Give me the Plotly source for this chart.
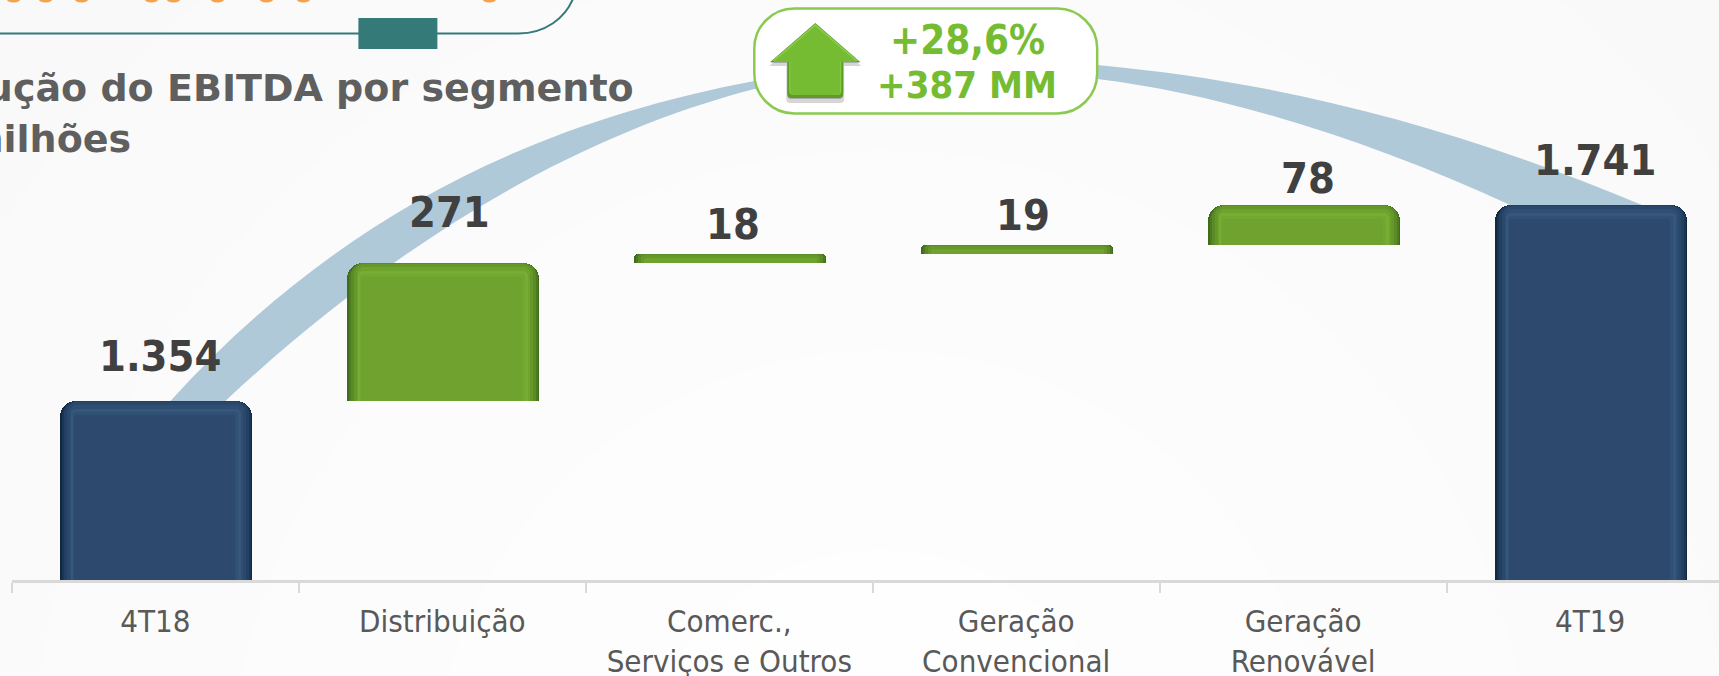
import plotly.graph_objects as go

W, H = 1719, 676
FIG_H = 730  # taller than the window so long tick labels never push the plot area; the page clips the rest
AXIS_Y = 580
PLOT_L = 11.5
CAT_PX = 287.0

categories = ["4T18", "Distribuição", "Comerc.,<br>Serviços e Outros", "Geração<br>Convencional", "Geração<br>Renovável", "4T19"]
values = [1354, 271, 18, 19, 78, 1741]
is_total = [True, False, False, False, False, True]
value_labels = ["1.354", "271", "18", "19", "78", "1.741"]
label_dx = [5, 7, 4, 7, 5, 5]
label_dy = [45, 51, 30, 30, 27, 45]
AXIS_MIN = 1000
AXIS_MAX = 2145
PX_PER_UNIT = AXIS_Y / (AXIS_MAX - AXIS_MIN)

# Waterfall bases
bases, run = [], 0
for v, t in zip(values, is_total):
    if t:
        bases.append(AXIS_MIN)
        run = v
    else:
        bases.append(run)
        run += v
heights = [v - AXIS_MIN if t else v for v, t in zip(values, is_total)]

# bevel layers: inset left, inset right, inset top (px), and colours for the two palettes
BEVEL = [(0, 0, 0), (2, 1, 0), (4, 3, 0), (7, 6, 1), (10, 9, 4), (11, 11, 8), (13, 14, 11), (14, 17, 14)]
BLUE = ["#12283e", "#1b3554", "#233f62", "#2a486c", "#2f4e73", "#375779", "#315076", "#2d4a6e"]
GREEN = ["#3f6b1b", "#4c7b21", "#5a8b26", "#659829", "#6ea42e", "#78ad35", "#72a831", "#6fa22f"]
BAR_PX = 192.0
BAR_LEFT = -95.0


def px(x):
    return (x - PLOT_L) / (W - PLOT_L)


def py(y):
    return 1 - y / AXIS_Y


def pt(x, y):
    return f"{px(x):.5f},{py(y):.5f}"


fig = go.Figure()
for layer, (il, ir, it) in enumerate(BEVEL):
    ys, bs, cols, widths, offs, sq = [], [], [], [], [], []
    radius = max(16 - min(il, ir), 3)
    for h, b, t in zip(heights, bases, is_total):
        h_px = h * PX_PER_UNIT
        keep = it <= 0.6 * h_px
        hh = h - it / PX_PER_UNIT if keep else 0
        ys.append(hh)
        bs.append(b)
        cols.append((BLUE if t else GREEN)[layer])
        widths.append((BAR_PX - il - ir) / CAT_PX)
        offs.append((BAR_LEFT + il) / CAT_PX)
        # square lower part: floating bars get rounded at both ends
        sq.append(max(hh - radius / PX_PER_UNIT, hh / 2))
    fig.add_trace(go.Bar(x=categories, y=ys, base=bs, width=widths, offset=offs,
                         marker=dict(color=cols, line=dict(width=0), cornerradius=radius),
                         hoverinfo="skip", showlegend=False))
    fig.add_trace(go.Bar(x=categories, y=sq, base=bs, width=widths, offset=offs,
                         marker=dict(color=cols, line=dict(width=0)),
                         hoverinfo="skip", showlegend=False))

# Background radial glow
shapes = []
glow = [(1250, "#f9f9f9"), (1050, "#fafafa"), (850, "#fbfbfb"), (650, "#fcfcfc"), (450, "#fdfdfd"), (250, "#fefefe")]
cx, cy = 880, 800
for r, c in glow:
    shapes.append(dict(type="circle", xref="paper", yref="paper", x0=px(cx - r), x1=px(cx + r), y0=py(cy + r), y1=py(cy - r), fillcolor=c, line=dict(width=0), layer="below"))

# Arc band
arc = (f"M {pt(170, 401)} C {pt(330, 225)} {pt(520, 125)} {pt(754, 81)} L {pt(1097, 65)} "
       f"C {pt(1280, 82)} {pt(1450, 125)} {pt(1642, 205)} L {pt(1510, 205)} "
       f"C {pt(1380, 145)} {pt(1230, 95)} {pt(1097, 79)} L {pt(754, 89)} "
       f"C {pt(554, 141)} {pt(375, 261)} {pt(225, 401)} Z")
shapes.append(dict(type="path", xref="paper", yref="paper", path=arc, fillcolor="#b0c9d9", line=dict(width=0), layer="below"))

# Header box fragment
box = f"M {pt(-5, 33.5)} L {pt(518, 33.5)} C {pt(545, 33.5)} {pt(565, 18)} {pt(573, -2)}"
shapes.append(dict(type="path", xref="paper", yref="paper", path=box, line=dict(color="#337a78", width=2), layer="above"))
shapes.append(dict(type="rect", xref="paper", yref="paper", x0=px(358), x1=px(437), y0=py(49), y1=py(18), fillcolor="#337a78", line=dict(width=0), layer="above"))
# clipped feet of the orange heading above the crop
for fx in [13, 45, 81, 151, 173, 217, 266, 303, 489]:
    shapes.append(dict(type="circle", xref="paper", yref="paper", x0=px(fx - 7), x1=px(fx + 7), y0=py(2.5), y1=py(-5), fillcolor="#f7a24a", line=dict(width=0), layer="above"))


def rrect(x0, y0, x1, y1, r):
    k = r * 0.45
    return (f"M {pt(x0 + r, y0)} L {pt(x1 - r, y0)} C {pt(x1 - k, y0)} {pt(x1, y0 + k)} {pt(x1, y0 + r)} "
            f"L {pt(x1, y1 - r)} C {pt(x1, y1 - k)} {pt(x1 - k, y1)} {pt(x1 - r, y1)} "
            f"L {pt(x0 + r, y1)} C {pt(x0 + k, y1)} {pt(x0, y1 - k)} {pt(x0, y1 - r)} "
            f"L {pt(x0, y0 + r)} C {pt(x0, y0 + k)} {pt(x0 + k, y0)} {pt(x0 + r, y0)} Z")


shapes.append(dict(type="path", xref="paper", yref="paper", path=rrect(754, 8.5, 1097, 113.5, 40), fillcolor="#ffffff", line=dict(color="#8bc94f", width=2.5), layer="above"))


def house(dx, dy, grow):
    tip = (815 + dx, 23 + dy - grow)
    lw = (770 + dx - grow, 62 + dy)
    rw = (860 + dx + grow, 62 + dy)
    bl = (787 + dx - grow, 62 + dy)
    br = (843 + dx + grow, 62 + dy)
    k = 8
    b = 98 + dy + grow
    return (f"M {pt(*tip)} L {pt(*rw)} L {pt(*br)} L {pt(br[0], b - k)} C {pt(br[0], b)} {pt(br[0], b)} {pt(br[0] - k, b)} "
            f"L {pt(bl[0] + k, b)} C {pt(bl[0], b)} {pt(bl[0], b)} {pt(bl[0], b - k)} L {pt(*bl)} L {pt(*lw)} Z")


shapes.append(dict(type="path", xref="paper", yref="paper", path=house(0, 4, 1), fillcolor="rgba(120,120,120,0.30)", line=dict(width=0), layer="above"))
shapes.append(dict(type="path", xref="paper", yref="paper", path=house(0, 1, 0), fillcolor="rgba(90,90,90,0.35)", line=dict(width=0), layer="above"))
shapes.append(dict(type="path", xref="paper", yref="paper", path=house(0, 0, 0), fillcolor="#5f9a2a", line=dict(width=0), layer="above"))
shapes.append(dict(type="path", xref="paper", yref="paper", path=house(0, -1, -2), fillcolor="#8ad04e", line=dict(width=0), layer="above"))
shapes.append(dict(type="path", xref="paper", yref="paper", path=house(0, 0, -3), fillcolor="#76bc33", line=dict(width=0), layer="above"))

FONT = "DejaVu Sans Condensed, DejaVu Sans, sans-serif"
TITLE_FONT = "DejaVu Sans, sans-serif"
annotations = []
for c, h, b, lab, dx, dy in zip(categories, heights, bases, value_labels, label_dx, label_dy):
    annotations.append(dict(x=c, y=b + h, xref="x", yref="y", text=lab, showarrow=False, xanchor="center", yanchor="middle", xshift=dx, yshift=dy, font=dict(family=FONT, size=43, color="#404040", weight="bold")))


def note(text, x, y, size, color, anchor="center", family=FONT):
    annotations.append(dict(x=px(x), y=py(y), xref="paper", yref="paper", text=text, showarrow=False, xanchor=anchor, yanchor="middle", font=dict(family=family, size=size, color=color, weight="bold")))


note("Evolução do EBITDA por segmento", 636, 88, 38, "#5f5f5f", "right", TITLE_FONT)
note("R$ milhões", 133, 139, 38, "#5f5f5f", "right", TITLE_FONT)
note("+28,6%", 967, 40, 40, "#76bc32")
note("+387 MM", 967, 85, 38, "#76bc32")

fig.update_layout(
    width=W, height=FIG_H, autosize=False,
    barmode="overlay", bargap=0,
    margin=dict(l=PLOT_L, r=0, t=0, b=FIG_H - AXIS_Y, pad=0),
    paper_bgcolor="#f8f8f8", plot_bgcolor="rgba(0,0,0,0)",
    shapes=shapes, annotations=annotations,
    font=dict(family=FONT, size=31, color="#595959"),
    xaxis=dict(type="category", categoryorder="array", categoryarray=categories, range=[-0.5, -0.5 + (W - PLOT_L) / CAT_PX],
               tickson="boundaries", ticks="outside", ticklen=10, tickwidth=1.5, tickcolor="#d9d9d9",
               showline=True, linecolor="#d9d9d9", linewidth=2.5, showgrid=False, zeroline=False, tickangle=0,
               ticklabelstandoff=12,
               tickfont=dict(family=FONT, size=31, color="#595959"), fixedrange=True),
    yaxis=dict(range=[AXIS_MIN, AXIS_MAX], visible=False, fixedrange=True),
)
fig.write_html("out.html", config=dict(displayModeBar=False),
               post_script="document.body.style.margin='0';document.documentElement.style.overflow='hidden';document.body.style.overflow='hidden';")
